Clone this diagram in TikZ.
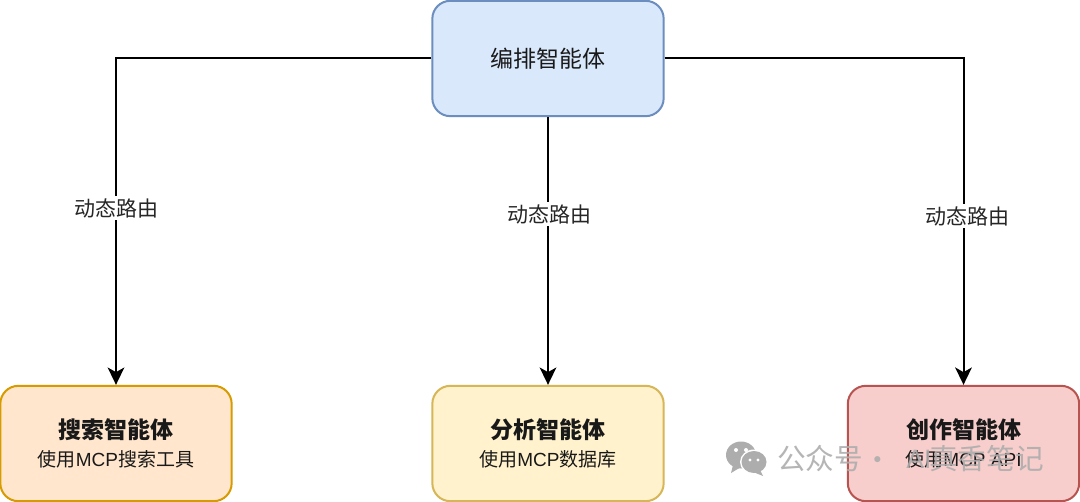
\documentclass[tikz,border=0pt]{standalone}
\usepackage{fontspec}
\setmainfont{Liberation Sans}
\newfontfamily\cjk{Noto Sans CJK SC}
\usetikzlibrary{arrows.meta}
\definecolor{blueF}{HTML}{DAE8FC}\definecolor{blueD}{HTML}{6C8EBF}
\definecolor{orangeF}{HTML}{FFE6CC}\definecolor{orangeD}{HTML}{D79B00}
\definecolor{yellowF}{HTML}{FFF2CC}\definecolor{yellowD}{HTML}{D6B656}
\definecolor{redF}{HTML}{F8CECC}\definecolor{redD}{HTML}{B85450}
\tikzset{
  x=0.75pt,y=-0.75pt,
  agentbox/.style={draw,rounded corners=13.5pt,line width=1.5pt,minimum width=173.5pt,minimum height=86.5pt,align=center,inner sep=0pt,text=black!90},
  flow/.style={line width=1.5pt,-{Stealth[length=13pt,width=12.5pt,inset=3.5pt]}},
  routelabel/.style={fill=white,inner xsep=0pt,inner ysep=2pt,font=\fontsize{15.75pt}{19pt}\selectfont\cjk,text=black!85},
  mark text/.style={text=black!32,opacity=.9,inner sep=0pt,font=\fontsize{21.5pt}{26pt}\selectfont\cjk},
}
\newcommand{\titletext}[1]{{\fontsize{17.25pt}{22pt}\selectfont\cjk\bfseries #1}}
\newcommand{\subcjk}[1]{{\fontsize{14.25pt}{19pt}\selectfont\cjk #1}}
\newcommand{\sublat}[1]{{\fontsize{14.25pt}{19pt}\selectfont #1}}
\begin{document}
\begin{tikzpicture}
\useasboundingbox (0,0) rectangle (1080,502);
\fill[white] (0,0) rectangle (1080,502);
\node[agentbox,fill=blueF,draw=blueD,font=\fontsize{17.25pt}{22pt}\selectfont\cjk] (orch) at (548,58.5) {编排智能体};
\node[agentbox,fill=orangeF,draw=orangeD] (search) at (116,443.5) {\titletext{搜索智能体}\\[6.5pt]\subcjk{使用}\sublat{MCP}\subcjk{搜索工具}};
\node[agentbox,fill=yellowF,draw=yellowD] (analysis) at (548,443.5) {\titletext{分析智能体}\\[6.5pt]\subcjk{使用}\sublat{MCP}\subcjk{数据库}};
\node[agentbox,fill=redF,draw=redD] (create) at (963.5,443.5) {\titletext{创作智能体}\\[6.5pt]\subcjk{使用}\sublat{MCP API}};
\draw[flow] (orch.west) -| (search.north);
\draw[flow] (orch.south) -- (analysis.north);
\draw[flow] (orch.east) -| (create.north);
\node[routelabel] (l1) at (116,208) {动态路由};
\node[routelabel] (l2) at (549,214) {动态路由};
\node[routelabel] (l3) at (967,216) {动态路由};
% watermark
\fill[black!32] (741,455) ellipse [x radius=15,y radius=13.5];
\fill[black!32] (733,465) -- (731,473) -- (741,467) -- cycle;
\fill[white] (754,462) ellipse [x radius=14,y radius=12.5];
\fill[black!32] (754,462) ellipse [x radius=12.5,y radius=11];
\fill[black!32] (760,470) -- (763,476) -- (753,472) -- cycle;
\fill[white] (736,450) circle (2) (746,450) circle (2) (750,460) circle (1.7) (758,460) circle (1.7);
\node[mark text,anchor=west] (m1) at (777,459) {公众号};
\node[mark text,anchor=center] (m2) at (878,464) {·};
\node[mark text,anchor=west,font=\fontsize{20pt}{24pt}\selectfont] (m3) at (906,459) {AI};
\node[mark text,anchor=west] (m4) at (929,459) {真香笔记};
\end{tikzpicture}
\end{document}
